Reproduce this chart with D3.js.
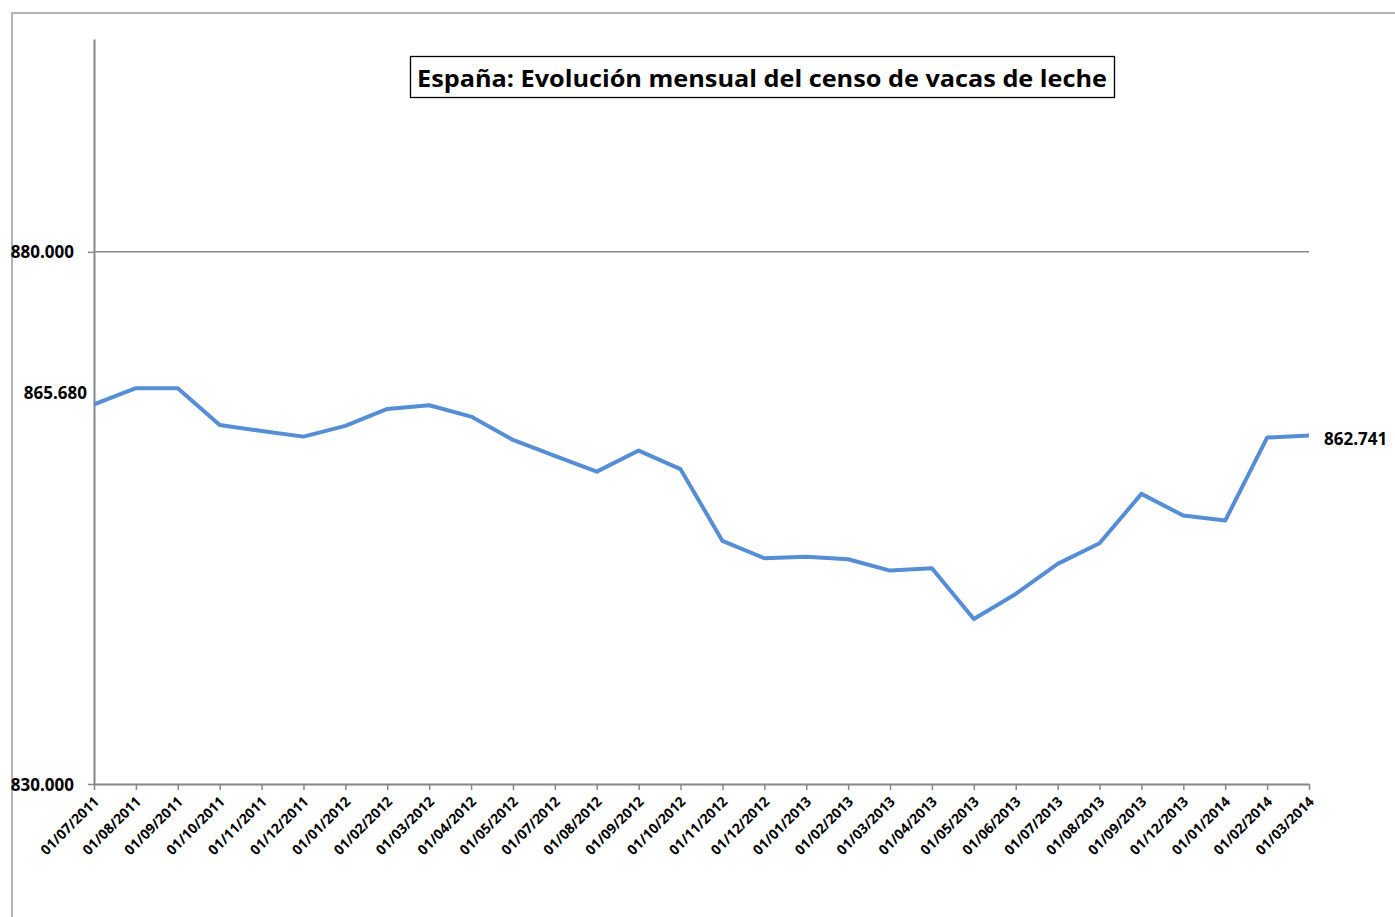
<!DOCTYPE html>
<html>
<head>
<meta charset="utf-8">
<script src="https://cdn.jsdelivr.net/npm/d3@7"></script>
<style>
  html, body { margin: 0; padding: 0; background: #fff; }
  svg text { font-family: "Open Sans", Lato, sans-serif; font-weight: bold; fill: #000; }
</style>
</head>
<body>
<svg id="chart" width="1395" height="917"></svg>
<script>
const categories = ["01/07/2011","01/08/2011","01/09/2011","01/10/2011","01/11/2011","01/12/2011",
  "01/01/2012","01/02/2012","01/03/2012","01/04/2012","01/05/2012","01/07/2012","01/08/2012",
  "01/09/2012","01/10/2012","01/11/2012","01/12/2012","01/01/2013","01/02/2013","01/03/2013",
  "01/04/2013","01/05/2013","01/06/2013","01/07/2013","01/08/2013","01/09/2013","01/12/2013",
  "01/01/2014","01/02/2014","01/03/2014"];
const values = [865680, 867190, 867190, 863740, 863170, 862640,
  863650, 865240, 865590, 864520, 862330, 860830, 859350,
  861330, 859580, 852840, 851210, 851360, 851120, 850050,
  850270, 845510, 847860, 850680, 852620, 857260, 855220,
  854750, 862550, 862741];
const yTicks = [830000, 880000];
const title = "España: Evolución mensual del censo de vacas de leche";

const svg = d3.select("#chart");
const fmt = d3.formatLocale({decimal: ",", thousands: ".", grouping: [3], currency: ["", ""]}).format(",.0f");

const x = d3.scalePoint().domain(categories).range([94, 1309]);
const y = d3.scaleLinear().domain([830000, 900000]).range([784, 39]);

// outer frame
svg.append("path").attr("d", "M12,917 L12,13 L1395,13")
  .attr("fill", "none").attr("stroke", "#b3b3b3").attr("stroke-width", 2);

// gridline
svg.append("g").selectAll("line").data(yTicks.filter(v => v !== 830000)).join("line")
  .attr("x1", 94).attr("x2", 1309)
  .attr("y1", d => y(d)).attr("y2", d => y(d))
  .attr("stroke", "#878787").attr("stroke-width", 1.5);

// y axis
const yAxis = svg.append("g").attr("transform", "translate(94,0)")
  .call(d3.axisLeft(y).tickValues(yTicks).tickFormat(fmt).tickSize(6).tickSizeOuter(0).tickPadding(14));
yAxis.select(".domain").attr("stroke", "#878787").attr("stroke-width", 2);
yAxis.selectAll(".tick line").attr("stroke", "#878787").attr("stroke-width", 1.5);
yAxis.selectAll(".tick text").style("font-size", "17px").attr("fill", "#000").attr("dy", "0.36em");

// x axis
const xAxis = svg.append("g").attr("transform", "translate(0,784)")
  .call(d3.axisBottom(x).tickSize(6).tickSizeOuter(0));
xAxis.select(".domain").attr("stroke", "#878787").attr("stroke-width", 2);
xAxis.selectAll(".tick line").attr("stroke", "#878787").attr("stroke-width", 1.5);
xAxis.selectAll(".tick text")
  .style("font-size", "14px")
  .attr("text-anchor", "end")
  .attr("x", 0).attr("y", 0).attr("dy", "0.35em")
  .attr("transform", "translate(2,15) rotate(-45)");

// line
svg.append("path").datum(values.map((v, i) => [categories[i], v]))
  .attr("fill", "none").attr("stroke", "#558ED5").attr("stroke-width", 4)
  .attr("stroke-linejoin", "round")
  .attr("d", d3.line().x(d => x(d[0])).y(d => y(d[1])));

// data labels
svg.append("text").attr("x", x(categories[0]) - 7).attr("y", y(values[0]) - 11)
  .attr("text-anchor", "end").attr("dy", "0.36em")
  .style("font-size", "17px").text(fmt(values[0]));
svg.append("text").attr("x", x(categories[29]) + 15).attr("y", y(values[29]) + 3)
  .attr("text-anchor", "start").attr("dy", "0.36em")
  .style("font-size", "17px").text(fmt(values[29]));

// title
svg.append("rect").attr("x", 410.5).attr("y", 56.5).attr("width", 704).attr("height", 41)
  .attr("fill", "#fff").attr("stroke", "#000").attr("stroke-width", 1.3);
svg.append("text").attr("x", 762).attr("y", 78).attr("text-anchor", "middle")
  .attr("dy", "0.36em").style("font-size", "24px")
  .attr("textLength", 690).attr("lengthAdjust", "spacingAndGlyphs")
  .text(title);
</script>
</body>
</html>
